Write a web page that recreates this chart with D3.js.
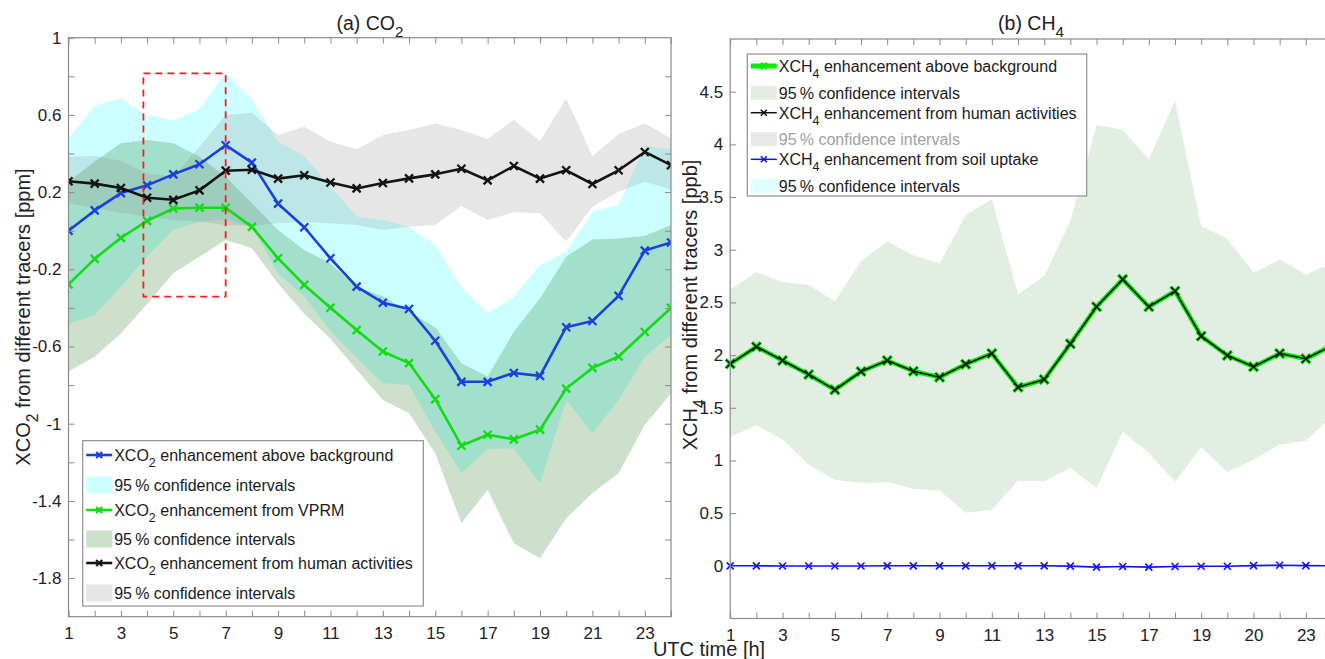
<!DOCTYPE html>
<html>
<head>
<meta charset="utf-8">
<script src="https://cdn.jsdelivr.net/npm/d3@7/dist/d3.min.js"></script>
<style>
body { margin: 0; background: #fff; }
svg text { font-family: "Liberation Sans", Arial, Helvetica, sans-serif; fill: #222; }
</style>
</head>
<body>
<svg id="chart" width="1325" height="659"></svg>
<script>
// hours of the day (UTC)
var hours = [1,2,3,4,5,6,7,8,9,10,11,12,13,14,15,16,17,18,19,20,21,22,23,24];
var xTickVals = [1,3,5,7,9,11,13,15,17,19,21,23];
var co2XLabels = ["1","3","5","7","9","11","13","15","17","19","21","23"];
var ch4XLabels = ["1","3","5","7","9","11","13","15","17","19","20","23"];

// (a) CO2 panel, ppm
var co2Total   = [0.0, 0.105, 0.195, 0.235, 0.292, 0.344, 0.443, 0.353, 0.14, 0.018, -0.143, -0.29, -0.373, -0.406, -0.57, -0.783, -0.783, -0.737, -0.752, -0.50, -0.468, -0.338, -0.103, -0.061];
var co2TotalHi = [0.479, 0.648, 0.686, 0.60, 0.57, 0.631, 0.819, 0.681, 0.461, 0.387, 0.228, 0.073, 0.055, 0.021, -0.074, -0.29, -0.428, -0.342, -0.178, -0.109, 0.098, 0.133, 0.439, 0.422];
var co2TotalLo = [-0.483, -0.437, -0.29, -0.135, 0.004, 0.047, 0.059, 0.021, -0.22, -0.34, -0.52, -0.66, -0.791, -0.80, -1.041, -1.257, -1.131, -1.128, -1.309, -0.877, -1.05, -0.877, -0.653, -0.54];
var co2Vprm    = [-0.278, -0.146, -0.037, 0.051, 0.115, 0.119, 0.119, 0.02, -0.143, -0.281, -0.399, -0.515, -0.626, -0.686, -0.873, -1.114, -1.057, -1.081, -1.031, -0.818, -0.711, -0.652, -0.525, -0.40];
var co2VprmHi  = [0.254, 0.358, 0.453, 0.47, 0.453, 0.383, 0.28, 0.142, 0.004, -0.1, -0.169, -0.29, -0.34, -0.42, -0.50, -0.687, -0.756, -0.523, -0.35, -0.135, -0.045, -0.04, -0.026, 0.03];
var co2VprmLo  = [-0.73, -0.653, -0.532, -0.38, -0.221, -0.135, -0.048, -0.091, -0.273, -0.43, -0.56, -0.72, -0.877, -0.946, -1.153, -1.516, -1.343, -1.62, -1.697, -1.49, -1.36, -1.257, -1.007, -0.842];
var co2Human   = [0.256, 0.244, 0.221, 0.171, 0.16, 0.209, 0.311, 0.316, 0.27, 0.287, 0.25, 0.219, 0.247, 0.271, 0.292, 0.321, 0.261, 0.335, 0.27, 0.313, 0.242, 0.313, 0.408, 0.34];
var co2HumanHi = [0.383, 0.387, 0.363, 0.297, 0.28, 0.435, 0.6, 0.611, 0.496, 0.539, 0.461, 0.422, 0.496, 0.522, 0.556, 0.522, 0.475, 0.574, 0.465, 0.686, 0.387, 0.501, 0.556, 0.479];
var co2HumanLo = [0.142, 0.116, 0.093, 0.073, 0.055, 0.047, 0.03, 0.024, 0.038, 0.047, 0.038, 0.03, 0.004, 0.021, 0.03, 0.128, 0.055, 0.095, 0.09, -0.057, 0.124, 0.202, 0.254, 0.214];
var co2YTicks  = [-1.8,-1.6,-1.4,-1.2,-1,-0.8,-0.6,-0.4,-0.2,0,0.2,0.4,0.6,0.8];
var co2YLabels = [-1.8,-1.4,-1,-0.6,-0.2,0.2,0.6,1];
// red dashed box (hours, ppm)
var boxHours = [3.86, 7];
var boxPpm = [-0.342, 0.815];

// (b) CH4 panel, ppb
var ch4Total   = [1.917, 2.079, 1.949, 1.816, 1.67, 1.844, 1.949, 1.847, 1.79, 1.914, 2.015, 1.695, 1.768, 2.107, 2.459, 2.719, 2.459, 2.607, 2.18, 1.996, 1.889, 2.015, 1.965, 2.09];
var ch4TotalHi = [2.62, 2.788, 2.693, 2.665, 2.512, 2.893, 3.077, 2.947, 2.871, 3.327, 3.479, 2.576, 2.75, 3.273, 4.183, 4.138, 3.859, 4.414, 3.225, 3.105, 2.785, 2.904, 2.766, 2.87];
var ch4TotalLo = [1.223, 1.334, 1.198, 0.96, 0.818, 0.786, 0.795, 0.732, 0.713, 0.504, 0.529, 0.808, 0.802, 0.928, 0.738, 1.271, 1.071, 0.795, 1.125, 0.89, 1.007, 1.15, 1.188, 1.42];
var ch4Human   = [1.917, 2.079, 1.949, 1.816, 1.67, 1.844, 1.949, 1.847, 1.79, 1.914, 2.015, 1.695, 1.768, 2.107, 2.459, 2.719, 2.459, 2.607, 2.18, 1.996, 1.889, 2.015, 1.965, 2.09];
var ch4Soil    = [0, 0, -0.002, -0.002, -0.002, -0.002, 0, 0, 0, 0, 0, 0, 0, -0.003, -0.012, -0.006, -0.012, -0.006, -0.004, -0.004, 0.002, 0.005, 0.002, 0.001];
var ch4YTicks  = [0,0.5,1,1.5,2,2.5,3,3.5,4,4.5];

var font = '"Liberation Sans", Arial, Helvetica, sans-serif';
var axisGray = "#8a8a8a";
var svg = d3.select("#chart");

// scales
var xCo2 = d3.scaleLinear().domain([1, 24]).range([68.5, 671]);
var yCo2 = d3.scaleLinear().domain([-2, 1]).range([616.7, 37.7]);
var xCh4 = d3.scaleLinear().domain([1, 24]).range([730.2, 1332]);
var yCh4 = d3.scaleLinear().domain([-0.5, 5]).range([618.5, 39]);

function xPath(s) {
    return "M" + (-s) + "," + (-s) + "L" + s + "," + s + "M" + (-s) + "," + s + "L" + s + "," + (-s);
}

function near(list, v) {
    for (var i = 0; i < list.length; i++) {
        if (Math.abs(list[i] - v) < 1e-9) return i;
    }
    return -1;
}

function drawAxes(x, y, yTicks, yLabels, xLabels) {
    var g = svg.append("g");
    var xr = x.range(), yr = y.range();
    var gb = g.append("g").attr("transform", "translate(0," + yr[0] + ")")
        .call(d3.axisBottom(x).tickValues(hours).tickSize(-6).tickPadding(10)
            .tickFormat(function (d) {
                var i = near(xTickVals, d);
                return i < 0 ? "" : xLabels[i];
            }));
    g.append("g").attr("transform", "translate(0," + yr[1] + ")")
        .call(d3.axisTop(x).tickValues(hours).tickSize(-6).tickFormat(""));
    var gl = g.append("g").attr("transform", "translate(" + xr[0] + ",0)")
        .call(d3.axisLeft(y).tickValues(yTicks.concat(yLabels.filter(function (v) { return near(yTicks, v) < 0; })))
            .tickSize(-6).tickPadding(7)
            .tickFormat(function (d) {
                return near(yLabels, d) < 0 ? "" : String(d);
            }));
    g.append("g").attr("transform", "translate(" + xr[1] + ",0)")
        .call(d3.axisRight(y).tickValues(yTicks).tickSize(-6).tickFormat(""));
    g.selectAll(".domain").remove();
    g.selectAll(".tick line").attr("stroke", axisGray);
    g.selectAll("g").attr("font-family", font).attr("font-size", 17);
    g.selectAll(".tick text").attr("fill", "#262626");
    g.append("rect")
        .attr("x", xr[0]).attr("y", yr[1])
        .attr("width", xr[1] - xr[0]).attr("height", yr[0] - yr[1])
        .attr("fill", "none").attr("stroke", axisGray).attr("stroke-width", 1.2);
}

function band(g, x, y, lo, hi, color, op) {
    var area = d3.area()
        .x(function (d, i) { return x(hours[i]); })
        .y0(function (d, i) { return y(lo[i]); })
        .y1(function (d, i) { return y(hi[i]); });
    g.append("path").datum(hours).attr("d", area)
        .attr("fill", color).attr("fill-opacity", op).attr("stroke", "none");
}

function series(g, x, y, vals, color, width, msize, mwidth) {
    var line = d3.line()
        .x(function (d, i) { return x(hours[i]); })
        .y(function (d) { return y(d); });
    g.append("path").datum(vals).attr("d", line)
        .attr("fill", "none").attr("stroke", color).attr("stroke-width", width)
        .attr("stroke-linejoin", "round");
    g.selectAll(null).data(vals).enter().append("path")
        .attr("d", xPath(msize))
        .attr("transform", function (d, i) { return "translate(" + x(hours[i]) + "," + y(d) + ")"; })
        .attr("stroke", color).attr("stroke-width", mwidth).attr("fill", "none");
}

// text with a subscript, e.g. XCO + 2 + rest
function subText(sel, pre, sub, post, size) {
    sel.append("tspan").text(pre);
    sel.append("tspan").attr("font-size", size * 0.78).attr("dy", size * 0.38).text(sub);
    sel.append("tspan").attr("dy", -size * 0.38).text(post);
    return sel;
}

// ---------- panel (a) ----------
svg.append("clipPath").attr("id", "clipA").append("rect")
    .attr("x", 68.5).attr("y", 37.7).attr("width", 671 - 68.5).attr("height", 616.7 - 37.7);
var pa = svg.append("g").attr("clip-path", "url(#clipA)");
band(pa, xCo2, yCo2, co2TotalLo, co2TotalHi, "#00ffff", 0.2);
band(pa, xCo2, yCo2, co2VprmLo, co2VprmHi, "#006400", 0.2);
band(pa, xCo2, yCo2, co2HumanLo, co2HumanHi, "#808080", 0.2);
series(pa, xCo2, yCo2, co2Total, "#1940e0", 2.6, 4, 2.3);
series(pa, xCo2, yCo2, co2Vprm, "#12dc12", 2.6, 4, 2.3);
series(pa, xCo2, yCo2, co2Human, "#141414", 2.6, 4, 2.3);

pa.append("rect")
    .attr("x", xCo2(boxHours[0])).attr("y", yCo2(boxPpm[1]))
    .attr("width", xCo2(boxHours[1]) - xCo2(boxHours[0]))
    .attr("height", yCo2(boxPpm[0]) - yCo2(boxPpm[1]))
    .attr("fill", "none").attr("stroke", "#ff1a1a").attr("stroke-width", 1.8)
    .attr("stroke-dasharray", "7,5");

drawAxes(xCo2, yCo2, co2YTicks, co2YLabels, co2XLabels);

// ---------- panel (b) ----------
var pb = svg.append("g");
band(pb, xCh4, yCh4, ch4TotalLo, ch4TotalHi, "#006400", 0.11);
series(pb, xCh4, yCh4, ch4Soil, "#1010ff", 1.6, 3.5, 1.6);
series(pb, xCh4, yCh4, ch4Total, "#00ee00", 4.5, 4.5, 3.5);
series(pb, xCh4, yCh4, ch4Human, "#111111", 1.6, 4, 1.6);

drawAxes(xCh4, yCh4, ch4YTicks, ch4YTicks, ch4XLabels);

// ---------- titles & labels ----------
subText(svg.append("text").attr("x", 370).attr("y", 30).attr("text-anchor", "middle")
    .attr("font-size", 19.5), "(a) CO", "2", "", 19.5);
subText(svg.append("text").attr("x", 1031).attr("y", 30).attr("text-anchor", "middle")
    .attr("font-size", 19.5), "(b) CH", "4", "", 19.5);

subText(svg.append("text").attr("transform", "translate(30,317) rotate(-90)")
    .attr("text-anchor", "middle").attr("font-size", 20), "XCO", "2", " from different tracers [ppm]", 20);
subText(svg.append("text").attr("transform", "translate(697,305) rotate(-90)")
    .attr("text-anchor", "middle").attr("font-size", 20), "XCH", "4", " from different tracers [ppb]", 20);

svg.append("text").attr("x", 709).attr("y", 656).attr("text-anchor", "middle")
    .attr("font-size", 20).text("UTC time [h]");

// ---------- legends ----------
function legend(box, rows) {
    var g = svg.append("g");
    g.append("rect").attr("x", box.x).attr("y", box.y).attr("width", box.w).attr("height", box.h)
        .attr("fill", "#fff").attr("stroke", "#8f8f8f").attr("stroke-width", 1.2);
    rows.forEach(function (r) {
        var x0 = box.x + 3.5, x1 = box.x + 29.5;
        if (r.type === "line") {
            g.append("line").attr("x1", x0).attr("x2", x1).attr("y1", r.cy).attr("y2", r.cy)
                .attr("stroke", r.color).attr("stroke-width", r.width);
            g.append("path").attr("d", xPath(r.ms))
                .attr("transform", "translate(" + (x0 + x1) / 2 + "," + r.cy + ")")
                .attr("stroke", r.color).attr("stroke-width", r.mw).attr("fill", "none");
        } else {
            g.append("rect").attr("x", x0).attr("y", r.cy - r.sh / 2).attr("width", x1 - x0).attr("height", r.sh)
                .attr("fill", r.color);
        }
        var t = g.append("text").attr("x", box.x + 31.5).attr("y", r.cy + 6).attr("font-size", 16)
            .style("fill", r.textColor || "#1a1a1a");
        if (r.sub) subText(t, r.pre, r.sub, r.post, 16);
        else t.text(r.pre);
    });
}

legend({x: 82.7, y: 440.7, w: 340.6, h: 165.3}, [
    {type: "line", cy: 455, color: "#1940e0", width: 2.6, ms: 3, mw: 2.2, pre: "XCO", sub: "2", post: " enhancement above background"},
    {type: "swatch", cy: 485, color: "#ccffff", sh: 17, pre: "95\u2009% confidence intervals"},
    {type: "line", cy: 510, color: "#12dc12", width: 2.6, ms: 3, mw: 2.2, pre: "XCO", sub: "2", post: " enhancement from VPRM"},
    {type: "swatch", cy: 539, color: "#cce0cc", sh: 17, pre: "95\u2009% confidence intervals"},
    {type: "line", cy: 563, color: "#141414", width: 2.6, ms: 3, mw: 2.2, pre: "XCO", sub: "2", post: " enhancement from human activities"},
    {type: "swatch", cy: 593, color: "#e6e6e6", sh: 17, pre: "95\u2009% confidence intervals"}
]);

legend({x: 747.3, y: 54, w: 339.4, h: 142}, [
    {type: "line", cy: 66, color: "#00ee00", width: 5, ms: 3, mw: 3, pre: "XCH", sub: "4", post: " enhancement above background"},
    {type: "swatch", cy: 92.7, color: "#e3ede3", sh: 14, pre: "95\u2009% confidence intervals"},
    {type: "line", cy: 112.7, color: "#111111", width: 1.5, ms: 3, mw: 1.5, pre: "XCH", sub: "4", post: " enhancement from human activities"},
    {type: "swatch", cy: 139.3, color: "#e8e8e8", sh: 14, pre: "95\u2009% confidence intervals", textColor: "#a0a0a0"},
    {type: "line", cy: 159.3, color: "#1010ff", width: 1.5, ms: 3, mw: 1.5, pre: "XCH", sub: "4", post: " enhancement  from soil uptake"},
    {type: "swatch", cy: 186, color: "#e0ffff", sh: 14, pre: "95\u2009% confidence intervals"}
]);
</script>
</body>
</html>
